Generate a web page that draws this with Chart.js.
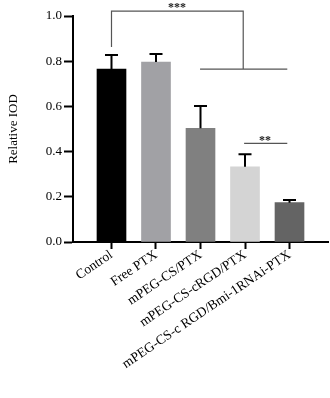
<!DOCTYPE html>
<html>
<head>
<meta charset="utf-8">
<script src="https://cdn.jsdelivr.net/npm/chart.js@4"></script>
<style>
  html, body { margin: 0; padding: 0; background: #fff; }
  #wrap { width: 330px; height: 398px; }
</style>
</head>
<body>
<div id="wrap"><canvas id="chart"></canvas></div>
<script>
// Groups and values
const groups = ["Control", "Free PTX", "mPEG-CS/PTX", "mPEG-CS-cRGD/PTX", "mPEG-CS-c RGD/Bmi-1RNAi-PTX"];
const meanIOD = [0.765, 0.796, 0.503, 0.333, 0.174];
const sdIOD = [0.062, 0.036, 0.099, 0.055, 0.012];
const barColors = ["#000000", "#a1a1a5", "#808080", "#d4d4d4", "#646464"];
const yTicks = [0, 0.2, 0.4, 0.6, 0.8, 1.0];

// Significance marks (x in group index, y in data units)
const bracketMain = [[0, 0.863], [0, 1.022], [2.96, 1.022], [2.96, 0.765]];
const bracketBase = [[1.99, 0.765], [3.95, 0.765]];
const bracketPair = [[2.98, 0.436], [3.95, 0.436]];
const starsMain = { x: 1.47, y: 1.035, text: "***" };
const starsPair = { x: 3.45, y: 0.447, text: "**" };

const serif = "'Liberation Serif', 'Times New Roman', serif";

// error bars and significance brackets
const extrasPlugin = {
    id: "extras",
    afterDatasetsDraw(chart) {
        const ctx = chart.ctx;
        const xs = chart.scales.x;
        const ys = chart.scales.y;
        const meta = chart.getDatasetMeta(0);

        ctx.save();
        ctx.strokeStyle = "#000";
        ctx.lineWidth = 2;
        meta.data.forEach((bar, i) => {
            const top = ys.getPixelForValue(meanIOD[i] + sdIOD[i]);
            ctx.beginPath();
            ctx.moveTo(bar.x, bar.y);
            ctx.lineTo(bar.x, top);
            ctx.moveTo(bar.x - 6.5, top);
            ctx.lineTo(bar.x + 6.5, top);
            ctx.stroke();
        });

        ctx.strokeStyle = "#555";
        ctx.lineWidth = 1.2;
        [bracketMain, bracketBase, bracketPair].forEach((pts) => {
            ctx.beginPath();
            pts.forEach((p, k) => {
                const px = xs.getPixelForValue(p[0]);
                const py = ys.getPixelForValue(p[1]);
                if (k === 0) ctx.moveTo(px, py); else ctx.lineTo(px, py);
            });
            ctx.stroke();
        });

        ctx.fillStyle = "#222";
        ctx.font = "bold 12px " + serif;
        ctx.textAlign = "center";
        ctx.textBaseline = "middle";
        [starsMain, starsPair].forEach((s) => {
            ctx.fillText(s.text, xs.getPixelForValue(s.x), ys.getPixelForValue(s.y));
        });
        ctx.restore();
    }
};

new Chart(document.getElementById("chart"), {
    type: "bar",
    data: {
        datasets: [{
            data: meanIOD.map((v, i) => ({ x: i, y: v })),
            backgroundColor: barColors,
            borderWidth: 0,
            barThickness: 29
        }]
    },
    options: {
        responsive: true,
        maintainAspectRatio: false,
        devicePixelRatio: 1,
        animation: false,
        layout: { padding: { top: 16, right: 2, left: 0, bottom: 0 } },
        plugins: {
            legend: { display: false },
            tooltip: { enabled: false }
        },
        scales: {
            x: {
                type: "linear",
                offset: false,
                min: -0.865,
                max: 4.865,
                afterBuildTicks: (scale) => {
                    scale.ticks = groups.map((g, i) => ({ value: i }));
                },
                afterFit: (scale) => { scale.height = 156; },
                ticks: {
                    callback: (v) => groups[v],
                    color: "#000",
                    font: { family: serif, size: 13.5 },
                    minRotation: 34,
                    maxRotation: 34,
                    autoSkip: false,
                    padding: -2
                },
                grid: {
                    offset: false,
                    drawOnChartArea: false,
                    drawTicks: true,
                    tickLength: 7,
                    tickWidth: 2,
                    tickColor: "#000"
                },
                border: { color: "#000", width: 2 }
            },
            y: {
                min: 0,
                max: 1,
                afterBuildTicks: (scale) => {
                    scale.ticks = yTicks.map((v) => ({ value: v }));
                },
                afterFit: (scale) => { scale.width = 73; },
                ticks: {
                    callback: (v) => Number(v).toFixed(1),
                    color: "#000",
                    font: { family: serif, size: 13 },
                    padding: 2
                },
                grid: {
                    drawOnChartArea: false,
                    drawTicks: true,
                    tickLength: 9,
                    tickWidth: 2,
                    tickColor: "#000"
                },
                border: { color: "#000", width: 2 },
                title: {
                    display: true,
                    text: "Relative IOD",
                    color: "#000",
                    font: { family: serif, size: 13 },
                    padding: { top: 6, bottom: 0 }
                }
            }
        }
    },
    plugins: [extrasPlugin]
});
</script>
</body>
</html>
